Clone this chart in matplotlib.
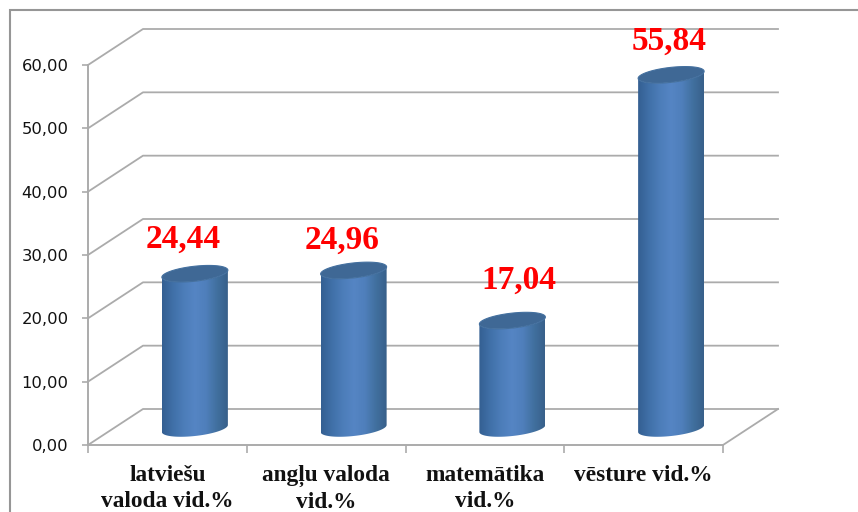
import numpy as np
import matplotlib
matplotlib.use("Agg")
import matplotlib.pyplot as plt
from matplotlib.colors import LinearSegmentedColormap
from matplotlib.patches import Polygon, Rectangle

categories = ["latviešu\nvaloda vid.%", "angļu valoda\nvid.%", "matemātika\nvid.%", "vēsture vid.%"]
values = [24.44, 24.96, 17.04, 55.84]
value_labels = ["24,44", "24,96", "17,04", "55,84"]
y_ticks = [0, 10, 20, 30, 40, 50, 60]
label_offsets_px = [(-12, 18.5), (-12, 14.5), (7, 24.5), (-2, 18.5)]

W, H = 858, 512
fig = plt.figure(figsize=(W / 100, H / 100), dpi=100, facecolor="white")
L, R, T, B = 88, 723, 65, 445
ax = fig.add_axes([L / W, 1 - B / H, (R - L) / W, (B - T) / H])
ax.set_xlim(0, 4)
ax.set_ylim(0, 60)
ax.patch.set_alpha(0)

px_x = 4 / (R - L)
px_y = 60 / (B - T)
dx = 55 * px_x
dy = 36 * px_y
GRID = "#ababab"

fig.add_artist(Rectangle((10 / W, -0.1), 1.1, 1.1 - 10 / H, transform=fig.transFigure,
                         fill=False, ec="#969696", lw=1.5))

for v in y_ticks:
    ax.plot([0, dx, 4 + dx], [v, v + dy, v + dy], color=GRID, lw=1.3, clip_on=False, zorder=1)
ax.plot([4, 4 + dx], [0, dy], color=GRID, lw=1.3, clip_on=False, zorder=1)

for s in ["top", "right"]:
    ax.spines[s].set_visible(False)
for s in ["left", "bottom"]:
    ax.spines[s].set_color(GRID)
    ax.spines[s].set_linewidth(1.4)

ax.set_yticks(y_ticks)
ax.set_yticklabels([f"{v:.2f}".replace(".", ",") for v in y_ticks],
                   fontfamily="DejaVu Sans", fontsize=11.8, color="#111111")
ax.tick_params(axis="y", length=4, width=1.2, color=GRID, pad=10)
ax.set_xticks(range(5))
ax.set_xticklabels([])
ax.tick_params(axis="x", which="major", length=6, width=1.2, color=GRID)
ax.set_xticks([i + 0.5 for i in range(4)], minor=True)
ax.set_xticklabels(categories, minor=True, fontfamily="Liberation Serif", fontweight="bold",
                   fontsize=16.8, color="#111111", linespacing=1.3)
ax.tick_params(axis="x", which="minor", length=0, pad=14.5)

cmap = LinearSegmentedColormap.from_list(
    "cyl", ["#345f92", "#4070a8", "#4c7db9", "#5585c4", "#4f7fbb", "#41709f", "#38608a"])
grad = np.linspace(0, 1, 256)[None, :]
rx = 33 * px_x
ry = 7.5 * px_y
tilt = 3.5 * px_y
shift = 1.5 * px_y
t_low = np.linspace(np.pi, 2 * np.pi, 60)
t_all = np.linspace(0, 2 * np.pi, 120)

for i, v in enumerate(values):
    cx = i + 0.5 + dx / 2
    base = dy / 2 - shift
    top = v + dy / 2 - shift
    ex = lambda t: cx + rx * np.cos(t)
    ey = lambda t, c: c + ry * np.sin(t) + tilt * np.cos(t)
    xs = np.r_[ex(t_low), ex(t_low[::-1])]
    ys = np.r_[ey(t_low, base), ey(t_low[::-1], top)]
    body = Polygon(np.c_[xs, ys], closed=True, transform=ax.transData, fc="none", ec="none", zorder=3)
    ax.add_patch(body)
    im = ax.imshow(grad, extent=[cx - rx, cx + rx, base - ry - tilt, top + ry + tilt],
                   cmap=cmap, aspect="auto", zorder=3, interpolation="bilinear")
    im.set_clip_path(body)
    cap = Polygon(np.c_[ex(t_all), ey(t_all, top)], closed=True, fc="#3f6895", ec="#44709f",
                  lw=0.8, zorder=4)
    ax.add_patch(cap)
    ox, oy = label_offsets_px[i]
    ax.annotate(value_labels[i], (cx, top), xytext=(ox * 0.72, oy * 0.72), textcoords="offset points",
                ha="center", va="bottom", color="#ff0000", fontfamily="Liberation Serif",
                fontweight="bold", fontsize=24, zorder=5, annotation_clip=False)

ax.set_xlim(0, 4)
ax.set_ylim(0, 60)
fig.savefig("out.png", dpi=100, facecolor="white")
